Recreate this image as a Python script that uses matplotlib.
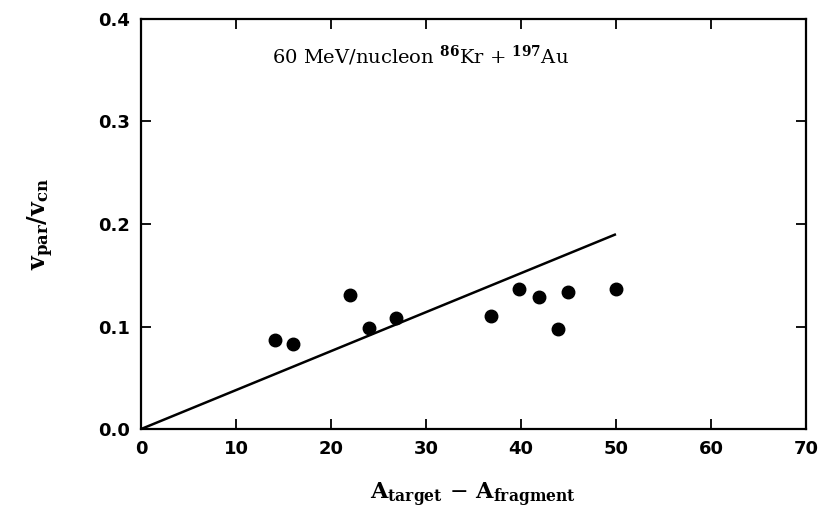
import matplotlib
matplotlib.use("Agg")
import matplotlib.pyplot as plt

plt.rcParams["mathtext.fontset"] = "dejavuserif"

# Data
mass_loss = [14.1, 16.0, 22.0, 24.0, 26.8, 36.8, 39.8, 41.9, 43.9, 44.9, 50.0]
v_ratio = [0.087, 0.083, 0.131, 0.099, 0.108, 0.110, 0.137, 0.129, 0.098, 0.134, 0.137]
line_x = [0, 50]
line_y = [0.0, 0.190]

xticks = [0, 10, 20, 30, 40, 50, 60, 70]
yticks = [0.0, 0.1, 0.2, 0.3, 0.4]

fig = plt.figure(figsize=(8.22, 5.22), dpi=100)
ax = fig.add_axes([0.1715, 0.178, 0.809, 0.786])

ax.plot(line_x, line_y, color="black", lw=1.8, solid_capstyle="butt")
ax.plot(mass_loss, v_ratio, "o", color="black", ms=9, mec="black")

ax.set_xlim(0, 70)
ax.set_ylim(0, 0.4)
ax.set_xticks(xticks)
ax.set_yticks(yticks)
ax.set_xticklabels([str(t) for t in xticks])
ax.set_yticklabels([f"{t:.1f}" for t in yticks])
ax.tick_params(direction="in", length=7, width=1.3, top=True, right=True,
               labelsize=13, pad=8)
for lab in ax.get_xticklabels() + ax.get_yticklabels():
    lab.set_fontweight("bold")
for s in ax.spines.values():
    s.set_linewidth(1.6)

serif = "DejaVu Serif"
ax.text(0.42, 0.91, r"60 MeV/nucleon $^{\mathbf{86}}$Kr + $^{\mathbf{197}}$Au",
        transform=ax.transAxes, ha="center", va="center", fontsize=14,
        family=serif)
ax.set_xlabel(r"A$_{\mathbf{target}}$ $-$ A$_{\mathbf{fragment}}$", fontsize=16,
              family=serif, fontweight="bold", labelpad=16)
ax.set_ylabel(r"v$_{\mathbf{par}}$/v$_{\mathbf{cn}}$", fontsize=17,
              family=serif, fontweight="bold", labelpad=30)

fig.savefig("out.png", dpi=100)
